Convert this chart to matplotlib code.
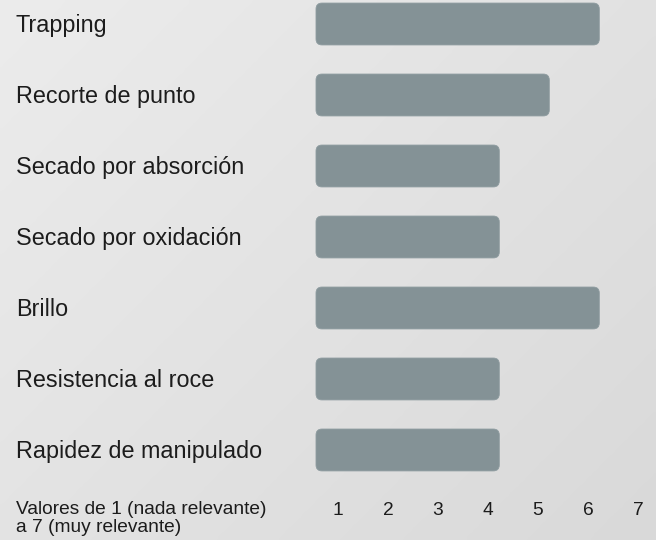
import numpy as np
import matplotlib
matplotlib.use("Agg")
import matplotlib.pyplot as plt
from matplotlib.patches import FancyBboxPatch

# datos (escala 1-7)
categorias = [
    "Trapping",
    "Recorte de punto",
    "Secado por absorción",
    "Secado por oxidación",
    "Brillo",
    "Resistencia al roce",
    "Rapidez de manipulado",
]
valores = [6, 5, 4, 4, 6, 4, 4]
escala = [1, 2, 3, 4, 5, 6, 7]
nota_escala = "Valores de 1 (nada relevante)\na 7 (muy relevante)"

plt.rcParams['font.family'] = ['Liberation Sans', 'DejaVu Sans']

color_barra = '#849296'
color_texto = '#1c1c1c'

fig = plt.figure(figsize=(6.56, 5.40), dpi=100)
ax = fig.add_axes([0, 0, 1, 1])

# ejes: 50 px por unidad en x, 71 px por fila en y
x0, x1 = -5.76, 7.36
y0, y1 = 7.268, -0.338
ax.set_xlim(x0, x1)
ax.set_ylim(y0, y1)
ax.axis('off')

# fondo degradado gris (diagonal)
gx, gy = np.meshgrid(np.linspace(0, 1, 200), np.linspace(0, 1, 200))
grad = 0.55 * gx + 0.45 * gy
ax.imshow(grad, extent=[x0, x1, y0, y1], cmap=plt.matplotlib.colors.LinearSegmentedColormap.from_list(
    'fondo', ['#ececec', '#d9d9d9']), aspect='auto', zorder=0, interpolation='bicubic')

# barras redondeadas
inicio = 0.56
fin_extra = 0.226
alto = 0.59
for i, (cat, v) in enumerate(zip(categorias, valores)):
    barra = FancyBboxPatch((inicio, i - alto / 2), v + fin_extra - inicio, alto,
                           boxstyle="round,pad=0,rounding_size=0.12",
                           mutation_aspect=50 / 71,
                           facecolor=color_barra, edgecolor='#8e9ca0', linewidth=0.6, zorder=2)
    ax.add_patch(barra)
    ax.text(-5.44, i + 0.113, cat, ha='left', va='baseline', fontsize=16.8, color=color_texto, zorder=3)

# etiquetas de la escala
fila_escala = (515 - 24) / 71
for k in escala:
    ax.text(k, fila_escala, str(k), ha='center', va='baseline', fontsize=13.8, color=color_texto, zorder=3)

ax.text(-5.44, (501 - 24) / 71, nota_escala, ha='left', va='top', fontsize=13.8,
        linespacing=1.08, color=color_texto, zorder=3)

fig.savefig('out.png', dpi=100)
